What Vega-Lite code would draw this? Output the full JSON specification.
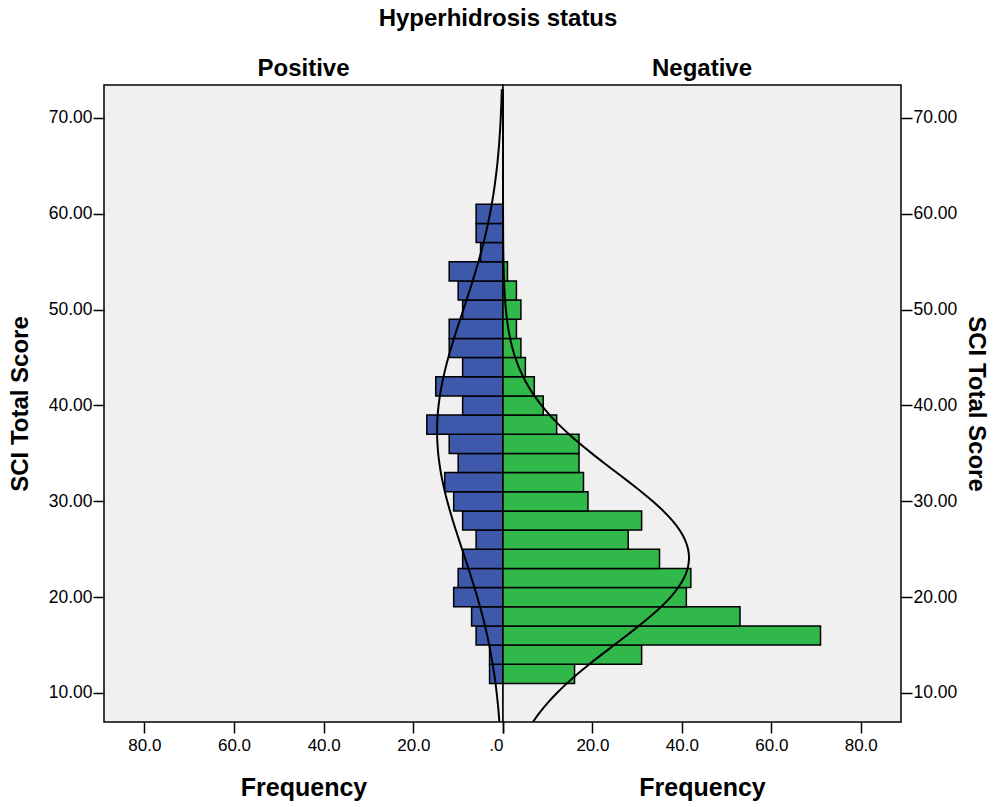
{
  "$schema": "https://vega.github.io/schema/vega-lite/v6.json",
  "padding": {"left": 7, "top": 7, "right": 0, "bottom": 5},
  "title": {"text": "Hyperhidrosis status", "fontSize": 24, "fontWeight": "bold", "font": "Liberation Sans", "anchor": "middle", "color": "#000000", "offset": 25},
  "datasets": {
    "bars": [
      {"status": "Positive", "lower": 11, "upper": 13, "frequency": 3},
      {"status": "Positive", "lower": 13, "upper": 15, "frequency": 3},
      {"status": "Positive", "lower": 15, "upper": 17, "frequency": 6},
      {"status": "Positive", "lower": 17, "upper": 19, "frequency": 7},
      {"status": "Positive", "lower": 19, "upper": 21, "frequency": 11},
      {"status": "Positive", "lower": 21, "upper": 23, "frequency": 10},
      {"status": "Positive", "lower": 23, "upper": 25, "frequency": 9},
      {"status": "Positive", "lower": 25, "upper": 27, "frequency": 6},
      {"status": "Positive", "lower": 27, "upper": 29, "frequency": 9},
      {"status": "Positive", "lower": 29, "upper": 31, "frequency": 11},
      {"status": "Positive", "lower": 31, "upper": 33, "frequency": 13},
      {"status": "Positive", "lower": 33, "upper": 35, "frequency": 10},
      {"status": "Positive", "lower": 35, "upper": 37, "frequency": 12},
      {"status": "Positive", "lower": 37, "upper": 39, "frequency": 17},
      {"status": "Positive", "lower": 39, "upper": 41, "frequency": 9},
      {"status": "Positive", "lower": 41, "upper": 43, "frequency": 15},
      {"status": "Positive", "lower": 43, "upper": 45, "frequency": 9},
      {"status": "Positive", "lower": 45, "upper": 47, "frequency": 12},
      {"status": "Positive", "lower": 47, "upper": 49, "frequency": 12},
      {"status": "Positive", "lower": 49, "upper": 51, "frequency": 9},
      {"status": "Positive", "lower": 51, "upper": 53, "frequency": 10},
      {"status": "Positive", "lower": 53, "upper": 55, "frequency": 12},
      {"status": "Positive", "lower": 55, "upper": 57, "frequency": 5},
      {"status": "Positive", "lower": 57, "upper": 59, "frequency": 6},
      {"status": "Positive", "lower": 59, "upper": 61, "frequency": 6},
      {"status": "Negative", "lower": 11, "upper": 13, "frequency": 16},
      {"status": "Negative", "lower": 13, "upper": 15, "frequency": 31},
      {"status": "Negative", "lower": 15, "upper": 17, "frequency": 71},
      {"status": "Negative", "lower": 17, "upper": 19, "frequency": 53},
      {"status": "Negative", "lower": 19, "upper": 21, "frequency": 41},
      {"status": "Negative", "lower": 21, "upper": 23, "frequency": 42},
      {"status": "Negative", "lower": 23, "upper": 25, "frequency": 35},
      {"status": "Negative", "lower": 25, "upper": 27, "frequency": 28},
      {"status": "Negative", "lower": 27, "upper": 29, "frequency": 31},
      {"status": "Negative", "lower": 29, "upper": 31, "frequency": 19},
      {"status": "Negative", "lower": 31, "upper": 33, "frequency": 18},
      {"status": "Negative", "lower": 33, "upper": 35, "frequency": 17},
      {"status": "Negative", "lower": 35, "upper": 37, "frequency": 17},
      {"status": "Negative", "lower": 37, "upper": 39, "frequency": 12},
      {"status": "Negative", "lower": 39, "upper": 41, "frequency": 9},
      {"status": "Negative", "lower": 41, "upper": 43, "frequency": 7},
      {"status": "Negative", "lower": 43, "upper": 45, "frequency": 5},
      {"status": "Negative", "lower": 45, "upper": 47, "frequency": 4},
      {"status": "Negative", "lower": 47, "upper": 49, "frequency": 3},
      {"status": "Negative", "lower": 49, "upper": 51, "frequency": 4},
      {"status": "Negative", "lower": 51, "upper": 53, "frequency": 3},
      {"status": "Negative", "lower": 53, "upper": 55, "frequency": 1}
    ],
    "curves": [
      {"status": "Positive", "score": 7, "frequency": 0.82},
      {"status": "Positive", "score": 8, "frequency": 0.98},
      {"status": "Positive", "score": 9, "frequency": 1.18},
      {"status": "Positive", "score": 10, "frequency": 1.41},
      {"status": "Positive", "score": 11, "frequency": 1.66},
      {"status": "Positive", "score": 12, "frequency": 1.96},
      {"status": "Positive", "score": 13, "frequency": 2.29},
      {"status": "Positive", "score": 14, "frequency": 2.66},
      {"status": "Positive", "score": 15, "frequency": 3.07},
      {"status": "Positive", "score": 16, "frequency": 3.52},
      {"status": "Positive", "score": 17, "frequency": 4.01},
      {"status": "Positive", "score": 18, "frequency": 4.55},
      {"status": "Positive", "score": 19, "frequency": 5.12},
      {"status": "Positive", "score": 20, "frequency": 5.73},
      {"status": "Positive", "score": 21, "frequency": 6.37},
      {"status": "Positive", "score": 22, "frequency": 7.03},
      {"status": "Positive", "score": 23, "frequency": 7.72},
      {"status": "Positive", "score": 24, "frequency": 8.42},
      {"status": "Positive", "score": 25, "frequency": 9.13},
      {"status": "Positive", "score": 26, "frequency": 9.83},
      {"status": "Positive", "score": 27, "frequency": 10.53},
      {"status": "Positive", "score": 28, "frequency": 11.2},
      {"status": "Positive", "score": 29, "frequency": 11.83},
      {"status": "Positive", "score": 30, "frequency": 12.43},
      {"status": "Positive", "score": 31, "frequency": 12.97},
      {"status": "Positive", "score": 32, "frequency": 13.45},
      {"status": "Positive", "score": 33, "frequency": 13.87},
      {"status": "Positive", "score": 34, "frequency": 14.2},
      {"status": "Positive", "score": 35, "frequency": 14.46},
      {"status": "Positive", "score": 36, "frequency": 14.62},
      {"status": "Positive", "score": 37, "frequency": 14.7},
      {"status": "Positive", "score": 38, "frequency": 14.68},
      {"status": "Positive", "score": 39, "frequency": 14.57},
      {"status": "Positive", "score": 40, "frequency": 14.37},
      {"status": "Positive", "score": 41, "frequency": 14.08},
      {"status": "Positive", "score": 42, "frequency": 13.71},
      {"status": "Positive", "score": 43, "frequency": 13.27},
      {"status": "Positive", "score": 44, "frequency": 12.76},
      {"status": "Positive", "score": 45, "frequency": 12.2},
      {"status": "Positive", "score": 46, "frequency": 11.58},
      {"status": "Positive", "score": 47, "frequency": 10.93},
      {"status": "Positive", "score": 48, "frequency": 10.25},
      {"status": "Positive", "score": 49, "frequency": 9.55},
      {"status": "Positive", "score": 50, "frequency": 8.85},
      {"status": "Positive", "score": 51, "frequency": 8.14},
      {"status": "Positive", "score": 52, "frequency": 7.44},
      {"status": "Positive", "score": 53, "frequency": 6.76},
      {"status": "Positive", "score": 54, "frequency": 6.11},
      {"status": "Positive", "score": 55, "frequency": 5.48},
      {"status": "Positive", "score": 56, "frequency": 4.89},
      {"status": "Positive", "score": 57, "frequency": 4.33},
      {"status": "Positive", "score": 58, "frequency": 3.81},
      {"status": "Positive", "score": 59, "frequency": 3.34},
      {"status": "Positive", "score": 60, "frequency": 2.9},
      {"status": "Positive", "score": 61, "frequency": 2.51},
      {"status": "Positive", "score": 62, "frequency": 2.15},
      {"status": "Positive", "score": 63, "frequency": 1.84},
      {"status": "Positive", "score": 64, "frequency": 1.56},
      {"status": "Positive", "score": 65, "frequency": 1.31},
      {"status": "Positive", "score": 66, "frequency": 1.1},
      {"status": "Positive", "score": 67, "frequency": 0.91},
      {"status": "Positive", "score": 68, "frequency": 0.76},
      {"status": "Positive", "score": 69, "frequency": 0.62},
      {"status": "Positive", "score": 70, "frequency": 0.51},
      {"status": "Positive", "score": 71, "frequency": 0.41},
      {"status": "Positive", "score": 72, "frequency": 0.33},
      {"status": "Positive", "score": 73, "frequency": 0.27},
      {"status": "Negative", "score": 7, "frequency": 6.73},
      {"status": "Negative", "score": 8, "frequency": 8.28},
      {"status": "Negative", "score": 9, "frequency": 10.05},
      {"status": "Negative", "score": 10, "frequency": 12.06},
      {"status": "Negative", "score": 11, "frequency": 14.29},
      {"status": "Negative", "score": 12, "frequency": 16.71},
      {"status": "Negative", "score": 13, "frequency": 19.31},
      {"status": "Negative", "score": 14, "frequency": 22.04},
      {"status": "Negative", "score": 15, "frequency": 24.84},
      {"status": "Negative", "score": 16, "frequency": 27.65},
      {"status": "Negative", "score": 17, "frequency": 30.39},
      {"status": "Negative", "score": 18, "frequency": 32.99},
      {"status": "Negative", "score": 19, "frequency": 35.38},
      {"status": "Negative", "score": 20, "frequency": 37.47},
      {"status": "Negative", "score": 21, "frequency": 39.18},
      {"status": "Negative", "score": 22, "frequency": 40.47},
      {"status": "Negative", "score": 23, "frequency": 41.29},
      {"status": "Negative", "score": 24, "frequency": 41.6},
      {"status": "Negative", "score": 25, "frequency": 41.39},
      {"status": "Negative", "score": 26, "frequency": 40.68},
      {"status": "Negative", "score": 27, "frequency": 39.48},
      {"status": "Negative", "score": 28, "frequency": 37.84},
      {"status": "Negative", "score": 29, "frequency": 35.82},
      {"status": "Negative", "score": 30, "frequency": 33.49},
      {"status": "Negative", "score": 31, "frequency": 30.93},
      {"status": "Negative", "score": 32, "frequency": 28.2},
      {"status": "Negative", "score": 33, "frequency": 25.4},
      {"status": "Negative", "score": 34, "frequency": 22.59},
      {"status": "Negative", "score": 35, "frequency": 19.85},
      {"status": "Negative", "score": 36, "frequency": 17.22},
      {"status": "Negative", "score": 37, "frequency": 14.76},
      {"status": "Negative", "score": 38, "frequency": 12.49},
      {"status": "Negative", "score": 39, "frequency": 10.44},
      {"status": "Negative", "score": 40, "frequency": 8.62},
      {"status": "Negative", "score": 41, "frequency": 7.02},
      {"status": "Negative", "score": 42, "frequency": 5.65},
      {"status": "Negative", "score": 43, "frequency": 4.5},
      {"status": "Negative", "score": 44, "frequency": 3.53},
      {"status": "Negative", "score": 45, "frequency": 2.74},
      {"status": "Negative", "score": 46, "frequency": 2.1},
      {"status": "Negative", "score": 47, "frequency": 1.59},
      {"status": "Negative", "score": 48, "frequency": 1.19},
      {"status": "Negative", "score": 49, "frequency": 0.88},
      {"status": "Negative", "score": 50, "frequency": 0.64},
      {"status": "Negative", "score": 51, "frequency": 0.46},
      {"status": "Negative", "score": 52, "frequency": 0.33},
      {"status": "Negative", "score": 53, "frequency": 0.23},
      {"status": "Negative", "score": 54, "frequency": 0.16},
      {"status": "Negative", "score": 55, "frequency": 0.11},
      {"status": "Negative", "score": 56, "frequency": 0.07},
      {"status": "Negative", "score": 58, "frequency": 0.03},
      {"status": "Negative", "score": 60, "frequency": 0.01},
      {"status": "Negative", "score": 65, "frequency": 0},
      {"status": "Negative", "score": 73, "frequency": 0}
    ]
  },
  "spacing": 0,
  "bounds": "flush",
  "hconcat": [
    {
      "width": 399,
      "height": 637,
      "title": {"text": "Positive", "fontSize": 24, "fontWeight": "bold", "font": "Liberation Sans", "color": "#000000", "anchor": "middle", "baseline": "alphabetic", "offset": -15},
      "layer": [
        {
          "data": {"name": "bars"},
          "transform": [{"filter": "datum.status === 'Positive'"}],
          "mark": {"type": "bar", "fill": "#3e58ac", "stroke": "#000000", "strokeWidth": 1.5},
          "encoding": {
            "y": {"field": "lower", "type": "quantitative", "scale": {"domain": [6.97, 73.44], "nice": false, "zero": false},
              "axis": {"orient": "left", "values": [10, 20, 30, 40, 50, 60, 70], "format": ".2f", "labelFontSize": 17.5, "labelPadding": 1, "title": "SCI Total Score", "titlePadding": 16}},
            "y2": {"field": "upper"},
            "x": {"field": "frequency", "type": "quantitative", "scale": {"domain": [0, 89], "reverse": true, "nice": false},
              "axis": {"values": [0, 20, 40, 60, 80], "labelExpr": "datum.value == 0 ? '.0' : format(datum.value, '.1f')", "labelPadding": 4, "title": "Frequency", "titleFontSize": 25, "titlePadding": 22}},
            "x2": {"datum": 0}
          }
        },
        {
          "data": {"name": "curves"},
          "transform": [{"filter": "datum.status === 'Positive'"}],
          "mark": {"type": "line", "color": "#000000", "strokeWidth": 2, "interpolate": "catmull-rom"},
          "encoding": {
            "y": {"field": "score", "type": "quantitative"},
            "x": {"field": "frequency", "type": "quantitative"},
            "order": {"field": "score", "type": "quantitative"}
          }
        }
      ]
    },
    {
      "width": 398,
      "height": 637,
      "title": {"text": "Negative", "fontSize": 24, "fontWeight": "bold", "font": "Liberation Sans", "color": "#000000", "anchor": "middle", "baseline": "alphabetic", "offset": -15},
      "layer": [
        {
          "data": {"name": "bars"},
          "transform": [{"filter": "datum.status === 'Negative'"}],
          "mark": {"type": "bar", "fill": "#31b84b", "stroke": "#000000", "strokeWidth": 1.5},
          "encoding": {
            "y": {"field": "lower", "type": "quantitative", "scale": {"domain": [6.97, 73.44], "nice": false, "zero": false},
              "axis": {"orient": "right", "values": [10, 20, 30, 40, 50, 60, 70], "format": ".2f", "labelFontSize": 17.5, "labelPadding": 1, "title": "SCI Total Score", "titlePadding": 7}},
            "y2": {"field": "upper"},
            "x": {"field": "frequency", "type": "quantitative", "scale": {"domain": [0, 89], "nice": false},
              "axis": {"values": [0, 20, 40, 60, 80], "labelExpr": "datum.value == 0 ? '' : format(datum.value, '.1f')", "labelPadding": 4, "title": "Frequency", "titleFontSize": 25, "titlePadding": 22}},
            "x2": {"datum": 0}
          }
        },
        {
          "data": {"name": "curves"},
          "transform": [{"filter": "datum.status === 'Negative'"}],
          "mark": {"type": "line", "color": "#000000", "strokeWidth": 2, "interpolate": "catmull-rom"},
          "encoding": {
            "y": {"field": "score", "type": "quantitative"},
            "x": {"field": "frequency", "type": "quantitative"},
            "order": {"field": "score", "type": "quantitative"}
          }
        }
      ]
    }
  ],
  "config": {
    "font": "Liberation Sans",
    "view": {"fill": "#f0f0f0", "stroke": "#000000", "strokeWidth": 1.5},
    "axis": {"domain": false, "grid": false, "tickColor": "#000000", "tickWidth": 1.5, "tickSize": 11, "labelColor": "#000000", "labelFont": "Liberation Sans", "labelFontSize": 17, "titleColor": "#000000", "titleFont": "Liberation Sans", "titleFontSize": 24, "titleFontWeight": "bold"}
  }
}
